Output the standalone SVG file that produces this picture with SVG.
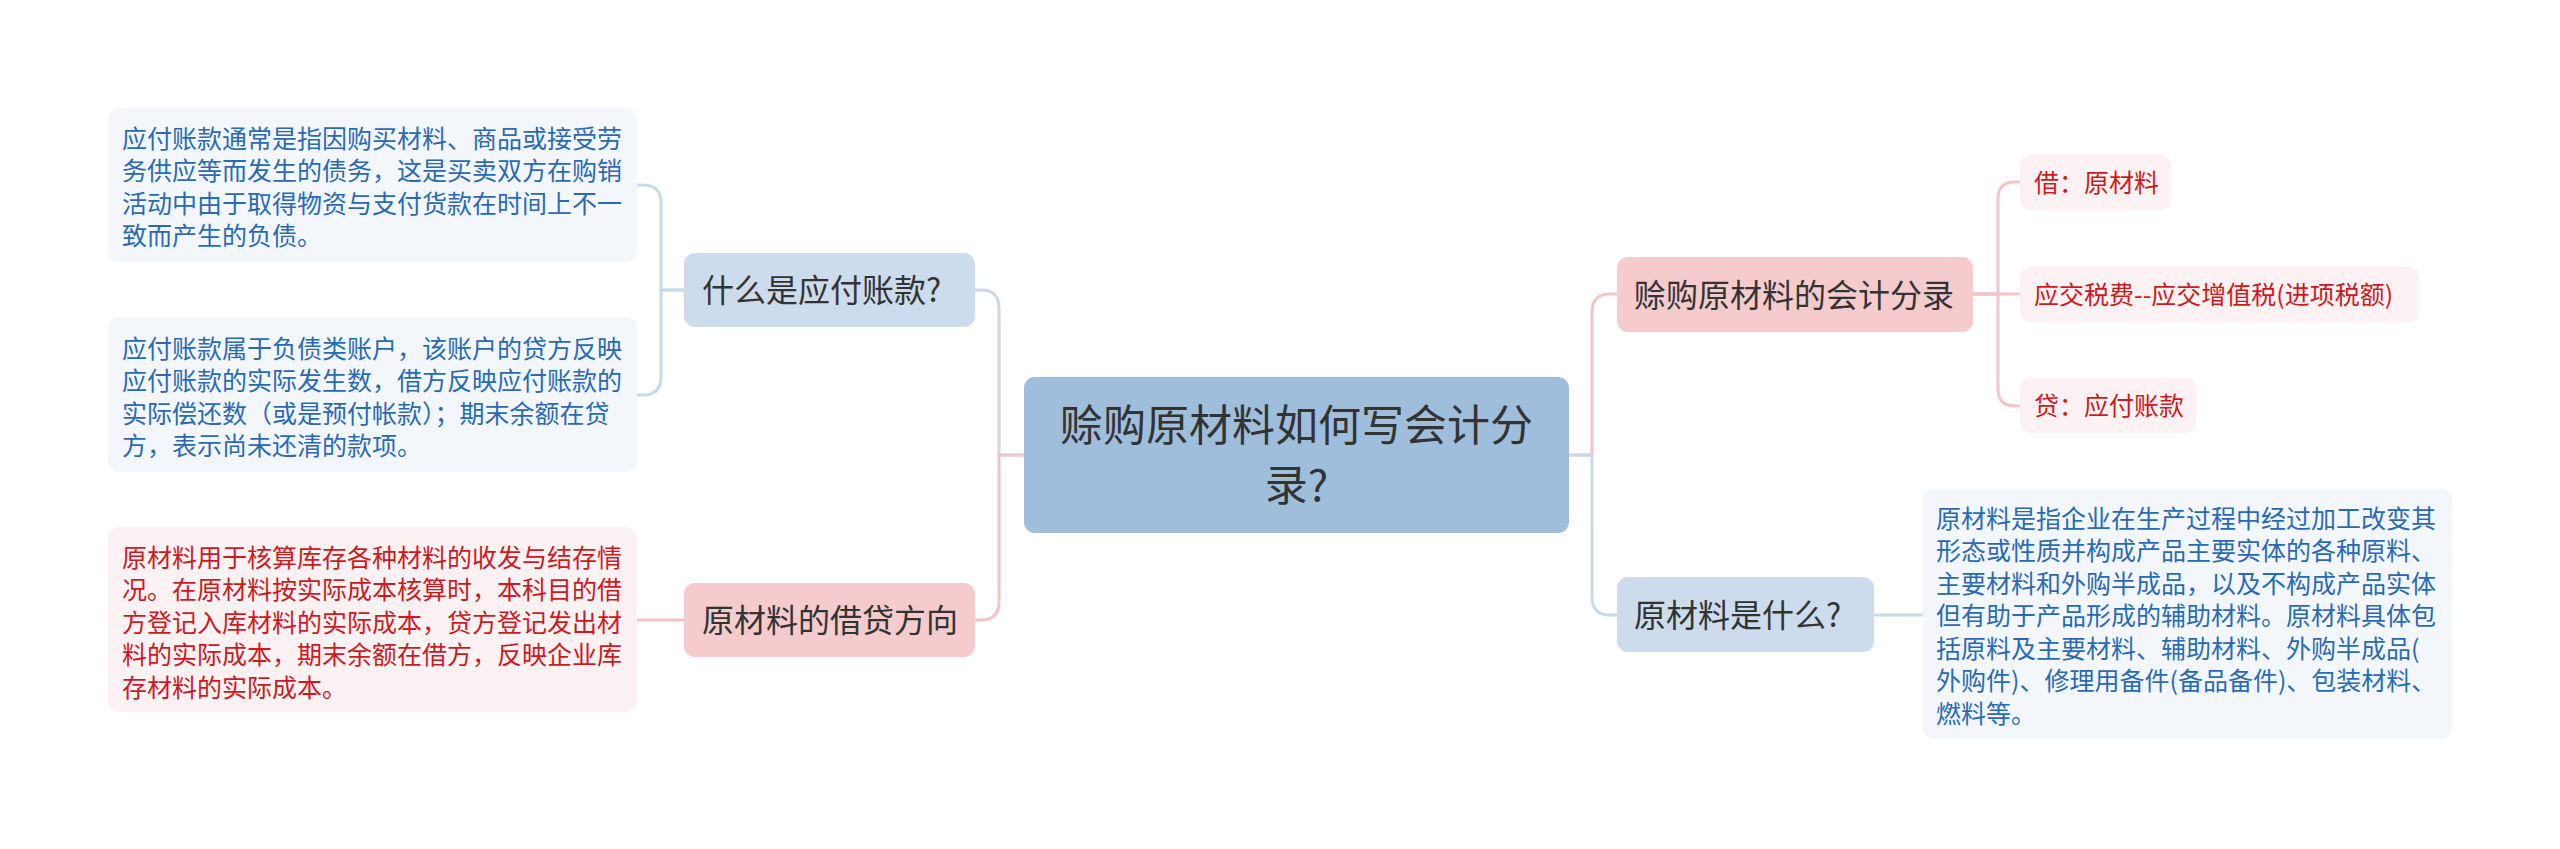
<svg xmlns="http://www.w3.org/2000/svg" width="2560" height="849" viewBox="0 0 2560 849">
<style>
text{font-family:"Noto Sans CJK SC","Noto Sans",sans-serif}
.root{fill:#9fbedc}
.bnode{fill:#ccdcec}
.pnode{fill:#f5cbce}
.bleaf{fill:#f3f7fc}
.pleaf{fill:#fdf2f3}
.t1{font-size:43px;fill:#333;text-anchor:middle}
.t2{font-size:32px;fill:#333}
.tb{font-size:25px;fill:#2a6ab5}
.tr{font-size:25px;fill:#cc1a1f}
.cb{fill:none;stroke:#c8d9ea;stroke-width:3}
.cp{fill:none;stroke:#f2c4c8;stroke-width:3}
</style>
<rect width="2560" height="849" fill="#ffffff"/>
<g id="connectors">
<path class="cb" d="M1024,455 H999 V308 Q999,290 981,290 H975"/>
<path class="cp" d="M1024,455 H999 V602 Q999,620 981,620 H975"/>
<path class="cb" d="M684,290 H661 V203 Q661,185 643,185 H637"/>
<path class="cb" d="M684,290 H661 V377 Q661,395 643,395 H637"/>
<path class="cp" d="M684,620 H637"/>
<path class="cp" d="M1569,455 H1592 V312 Q1592,294 1610,294 H1617"/>
<path class="cb" d="M1569,455 H1592 V597 Q1592,615 1610,615 H1617"/>
<path class="cp" d="M1973,294 H1998 V199 Q1998,182 2015,182 H2020"/>
<path class="cp" d="M1973,294 H2020"/>
<path class="cp" d="M1973,294 H1998 V389 Q1998,406 2015,406 H2020"/>
<path class="cb" d="M1874,615 H1923"/>
</g>
<g id="root">
<rect class="root" x="1024" y="377" width="545" height="156" rx="11"/>
<text class="t1" x="1296.5" y="441">赊购原材料如何写会计分</text>
<text class="t1" x="1296.5" y="501">录?</text>
</g>
<g id="n-what-payable">
<rect class="bnode" x="684" y="253" width="291" height="74" rx="11"/>
<text class="t2" x="702" y="302">什么是应付账款?</text>
</g>
<g id="n-debit-credit">
<rect class="pnode" x="684" y="583" width="291" height="74" rx="11"/>
<text class="t2" x="702" y="632">原材料的借贷方向</text>
</g>
<g id="leaf-payable-1">
<rect class="bleaf" x="108" y="108" width="529" height="154" rx="11"/>
<text class="tb" x="122" y="147.5">应付账款通常是指因购买材料、商品或接受劳</text>
<text class="tb" x="122" y="180">务供应等而发生的债务，这是买卖双方在购销</text>
<text class="tb" x="122" y="212.5">活动中由于取得物资与支付货款在时间上不一</text>
<text class="tb" x="122" y="245">致而产生的负债。</text>
</g>
<g id="leaf-payable-2">
<rect class="bleaf" x="108" y="317" width="529" height="155" rx="11"/>
<text class="tb" x="122" y="357.5">应付账款属于负债类账户，该账户的贷方反映</text>
<text class="tb" x="122" y="390">应付账款的实际发生数，借方反映应付账款的</text>
<text class="tb" x="122" y="422.5">实际偿还数（或是预付帐款）；期末余额在贷</text>
<text class="tb" x="122" y="455">方，表示尚未还清的款项。</text>
</g>
<g id="leaf-debit-credit">
<rect class="pleaf" x="108" y="527" width="529" height="185" rx="11"/>
<text class="tr" x="122" y="566.5">原材料用于核算库存各种材料的收发与结存情</text>
<text class="tr" x="122" y="599">况。在原材料按实际成本核算时，本科目的借</text>
<text class="tr" x="122" y="631.5">方登记入库材料的实际成本，贷方登记发出材</text>
<text class="tr" x="122" y="664">料的实际成本，期末余额在借方，反映企业库</text>
<text class="tr" x="122" y="696.5">存材料的实际成本。</text>
</g>
<g id="n-entries">
<rect class="pnode" x="1617" y="257" width="356" height="75" rx="11"/>
<text class="t2" x="1634" y="306.5">赊购原材料的会计分录</text>
</g>
<g id="leaf-debit">
<rect class="pleaf" x="2020" y="155" width="151" height="55" rx="10"/>
<text class="tr" x="2034" y="192">借：原材料</text>
</g>
<g id="leaf-tax">
<rect class="pleaf" x="2020" y="267" width="399" height="55" rx="10"/>
<text class="tr" x="2034" y="304">应交税费--应交增值税(进项税额)</text>
</g>
<g id="leaf-credit">
<rect class="pleaf" x="2020" y="378" width="176" height="55" rx="10"/>
<text class="tr" x="2034" y="415">贷：应付账款</text>
</g>
<g id="n-what-material">
<rect class="bnode" x="1617" y="577" width="257" height="75" rx="11"/>
<text class="t2" x="1634" y="626.5">原材料是什么?</text>
</g>
<g id="leaf-material">
<rect class="bleaf" x="1923" y="489" width="529" height="250" rx="11"/>
<text class="tb" x="1936" y="527.5">原材料是指企业在生产过程中经过加工改变其</text>
<text class="tb" x="1936" y="560">形态或性质并构成产品主要实体的各种原料、</text>
<text class="tb" x="1936" y="592.5">主要材料和外购半成品，以及不构成产品实体</text>
<text class="tb" x="1936" y="625">但有助于产品形成的辅助材料。原材料具体包</text>
<text class="tb" x="1936" y="657.5">括原料及主要材料、辅助材料、外购半成品(</text>
<text class="tb" x="1936" y="690">外购件)、修理用备件(备品备件)、包装材料、</text>
<text class="tb" x="1936" y="722.5">燃料等。</text>
</g>
</svg>
